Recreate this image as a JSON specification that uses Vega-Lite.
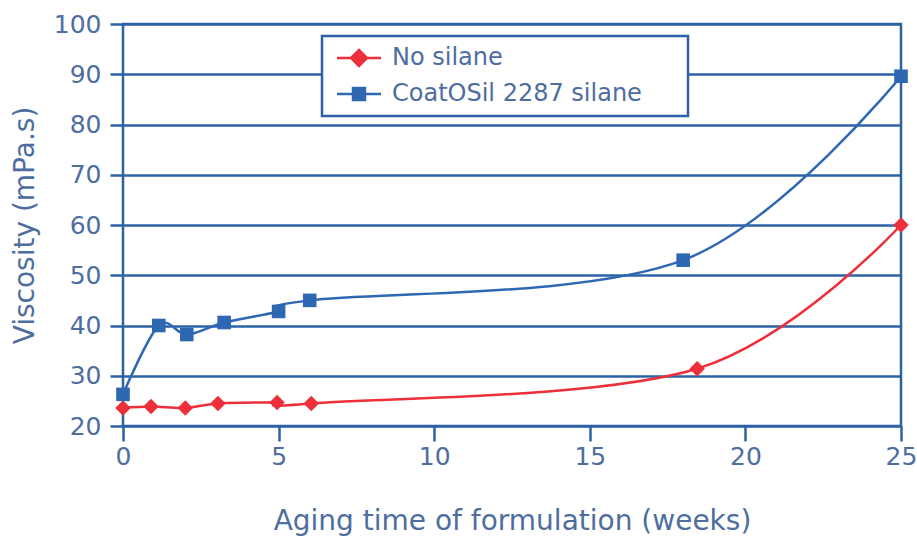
{
  "$schema": "https://vega.github.io/schema/vega-lite/v6.json",
  "width": 778,
  "height": 402,
  "autosize": {"type": "none"},
  "padding": {"left": 123, "top": 24, "right": 16, "bottom": 116},
  "background": "white",
  "config": {
    "font": "DejaVu Sans",
    "view": {"stroke": "#2d62a6", "strokeWidth": 2.5}
  },
  "data": {
    "values": [
      {"series": "No silane", "weeks": 0, "viscosity": 23.6},
      {"series": "No silane", "weeks": 0.9, "viscosity": 23.9},
      {"series": "No silane", "weeks": 2, "viscosity": 23.6},
      {"series": "No silane", "weeks": 3.05, "viscosity": 24.5},
      {"series": "No silane", "weeks": 4.95, "viscosity": 24.7},
      {"series": "No silane", "weeks": 6.05, "viscosity": 24.5},
      {"series": "No silane", "weeks": 18.45, "viscosity": 31.4},
      {"series": "No silane", "weeks": 25, "viscosity": 60},
      {"series": "CoatOSil 2287 silane", "weeks": 0, "viscosity": 26.3},
      {"series": "CoatOSil 2287 silane", "weeks": 1.15, "viscosity": 40},
      {"series": "CoatOSil 2287 silane", "weeks": 2.05, "viscosity": 38.2},
      {"series": "CoatOSil 2287 silane", "weeks": 3.25, "viscosity": 40.6},
      {"series": "CoatOSil 2287 silane", "weeks": 5, "viscosity": 42.8},
      {"series": "CoatOSil 2287 silane", "weeks": 6, "viscosity": 45},
      {"series": "CoatOSil 2287 silane", "weeks": 18, "viscosity": 53},
      {"series": "CoatOSil 2287 silane", "weeks": 25, "viscosity": 89.6}
    ]
  },
  "encoding": {
    "x": {
      "field": "weeks",
      "type": "quantitative",
      "scale": {"domain": [0, 25], "nice": false, "zero": false},
      "axis": {
        "title": "Aging time of formulation (weeks)",
        "values": [0, 5, 10, 15, 20, 25],
        "grid": false,
        "domain": false,
        "tickSize": 15,
        "tickColor": "#2d62a6",
        "tickWidth": 2.5,
        "labelFont": "DejaVu Sans",
        "labelFontSize": 25,
        "labelColor": "#4d6e9e",
        "labelPadding": 3,
        "labelFlush": false,
        "labelOverlap": false,
        "titleFont": "DejaVu Sans",
        "titleFontSize": 28,
        "titleFontWeight": "normal",
        "titleColor": "#4d6e9e",
        "titlePadding": 38
      }
    },
    "y": {
      "field": "viscosity",
      "type": "quantitative",
      "scale": {"domain": [20, 100], "nice": false, "zero": false},
      "axis": {
        "title": "Viscosity (mPa.s)",
        "values": [20, 30, 40, 50, 60, 70, 80, 90, 100],
        "grid": true,
        "gridColor": "#2d62a6",
        "gridWidth": 2.5,
        "gridOpacity": 1,
        "domain": false,
        "tickSize": 13,
        "tickColor": "#2d62a6",
        "tickWidth": 2.5,
        "labelFont": "DejaVu Sans",
        "labelFontSize": 25,
        "labelColor": "#4d6e9e",
        "labelPadding": 9,
        "labelOverlap": false,
        "titleFont": "DejaVu Sans",
        "titleFontSize": 28,
        "titleFontWeight": "normal",
        "titleColor": "#4d6e9e",
        "titlePadding": 14
      }
    },
    "color": {
      "field": "series",
      "type": "nominal",
      "scale": {"domain": ["No silane", "CoatOSil 2287 silane"], "range": ["#ec2f3a", "#2f68b2"]},
      "legend": {
        "title": null,
        "orient": "none",
        "legendX": 199,
        "legendY": 12,
        "padding": 10,
        "strokeColor": "#2d62a6",
        "fillColor": "white",
        "labelFont": "DejaVu Sans",
        "labelFontSize": 24,
        "labelColor": "#4d6e9e",
        "labelExpr": "datum.label + '\u2800\u2800'",
        "labelLimit": 0,
        "symbolSize": 256,
        "symbolOffset": 15,
        "labelOffset": 21,
        "rowPadding": 11,
        "encode": {
          "legend": {"update": {"strokeWidth": {"value": 2.5}}},
          "symbols": {
            "update": {
              "shape": [
                {"test": "datum.value === 'No silane'", "value": "M-2.75,0H2.75M-1,0L0,-1L1,0L0,1Z"},
                {"value": "M-2.75,0H2.75M-0.75,-0.75H0.75V0.75H-0.75Z"}
              ],
              "size": {"value": 256},
              "fill": {"scale": "color", "field": "value"},
              "stroke": {"scale": "color", "field": "value"},
              "strokeWidth": {"value": 2.5},
              "opacity": {"value": 1},
              "fillOpacity": {"value": 1}
            }
          }
        }
      }
    }
  },
  "layer": [
    {
      "mark": {"type": "line", "interpolate": "cardinal", "strokeWidth": 2.5}
    },
    {
      "transform": [{"filter": "datum.series === 'No silane'"}],
      "mark": {"type": "point", "filled": true, "opacity": 1, "shape": "diamond", "size": 240}
    },
    {
      "transform": [{"filter": "datum.series === 'CoatOSil 2287 silane'"}],
      "mark": {"type": "point", "filled": true, "opacity": 1, "shape": "square", "size": 185}
    }
  ]
}
